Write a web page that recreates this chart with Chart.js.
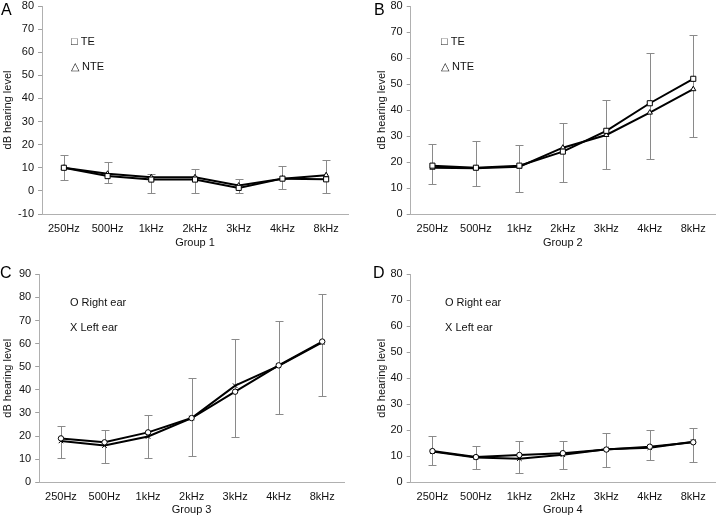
<!DOCTYPE html>
<html><head><meta charset="utf-8">
<script src="https://cdn.jsdelivr.net/npm/chart.js@4.4.1/dist/chart.umd.min.js"></script>
<style>
html,body{margin:0;padding:0;background:#fff;}
#wrap{position:relative;width:720px;height:518px;overflow:hidden;}
canvas{position:absolute;}
</style></head><body>
<div id="wrap">
<canvas id="cA" style="left:0;top:0;width:360px;height:260px" width="360" height="260"></canvas>
<canvas id="cB" style="left:360px;top:0;width:360px;height:260px" width="360" height="260"></canvas>
<canvas id="cC" style="left:0;top:260px;width:360px;height:258px" width="360" height="258"></canvas>
<canvas id="cD" style="left:360px;top:260px;width:360px;height:258px" width="360" height="258"></canvas>
</div>
<script>
// ---- data ----
const categories = ['250Hz','500Hz','1kHz','2kHz','3kHz','4kHz','8kHz'];

const group1_TE      = [10, 6.4, 4.9, 4.9, 1.3, 5.3, 5.0];
const group1_NTE     = [10, 7.4, 5.9, 5.9, 2.3, 5.3, 6.8];
const group1_errLow  = [4.5, 3.2, -0.9, -0.7, -0.8, 0.9, -0.7];
const group1_errHigh = [15.7, 12.5, 7.3, 9.6, 5.1, 10.9, 13.3];

const group2_TE      = [18.6, 17.8, 18.6, 24.0, 32.0, 42.6, 52.0];
const group2_NTE     = [17.8, 17.6, 18.2, 25.5, 30.4, 39.0, 48.0];
const group2_errLow  = [11.4, 10.7, 8.4, 12.5, 17.2, 21.2, 29.6];
const group2_errHigh = [26.8, 28.0, 26.4, 35.0, 43.8, 61.8, 69.0];

const group3_Right   = [19.0, 17.3, 21.6, 27.8, 39.2, 50.6, 60.9];
const group3_Left    = [17.9, 15.9, 19.8, 27.8, 41.8, 50.4, 60.5];
const group3_errLow  = [10.7, 8.4, 10.4, 11.4, 19.6, 29.6, 37.4];
const group3_errHigh = [24.5, 22.8, 29.3, 45.2, 62.2, 69.8, 81.5];

const group4_Right   = [12.0, 9.7, 10.5, 11.2, 12.6, 13.7, 15.4];
const group4_Left    = [11.8, 9.5, 9.1, 10.6, 12.7, 13.3, 15.6];
const group4_errLow  = [6.5, 5.1, 3.5, 5.0, 5.8, 8.5, 7.7];
const group4_errHigh = [17.7, 14.1, 15.9, 15.9, 18.8, 20.1, 20.8];

const yTicks1 = {min: -10, max: 80, step: 10};
const yTicks2 = {min: 0, max: 80, step: 10};
const yTicks3 = {min: 0, max: 90, step: 10};
const yTicks4 = {min: 0, max: 80, step: 10};

// ---- plugins ----
const FONT = 'Liberation Sans, Arial, Helvetica, sans-serif';

const errorBars = {
  id: 'errorBars',
  beforeDatasetsDraw(chart, args, opts) {
    const {ctx, scales: {x, y}} = chart;
    const lo = opts.low, hi = opts.high;
    if (!lo) return;
    ctx.save();
    ctx.strokeStyle = '#8a8a8a';
    ctx.lineWidth = 1;
    for (let i = 0; i < lo.length; i++) {
      const px = Math.round(x.getPixelForValue(i)) + 0.5;
      const y1 = Math.round(y.getPixelForValue(lo[i])) + 0.5;
      const y2 = Math.round(y.getPixelForValue(hi[i])) + 0.5;
      ctx.beginPath();
      ctx.moveTo(px, y1); ctx.lineTo(px, y2);
      ctx.moveTo(px - 4, y1); ctx.lineTo(px + 4, y1);
      ctx.moveTo(px - 4, y2); ctx.lineTo(px + 4, y2);
      ctx.stroke();
    }
    ctx.restore();
  }
};

const panelText = {
  id: 'panelText',
  afterDraw(chart, args, opts) {
    const ctx = chart.ctx;
    ctx.save();
    ctx.fillStyle = '#000';
    ctx.textAlign = 'left';
    ctx.textBaseline = 'alphabetic';
    ctx.font = '16px ' + FONT;
    ctx.fillText(opts.letter, opts.lx, opts.ly);
    ctx.font = '11px ' + FONT;
    ctx.fillStyle = '#111';
    ctx.textBaseline = 'middle';
    (opts.items || []).forEach(it => ctx.fillText(it.text, it.x, it.y));
    ctx.restore();
  }
};

function makeChart(id, cfg) {
  const ds = cfg.series.map(s => ({
    label: s.label,
    data: s.data,
    borderColor: '#000',
    borderWidth: 2,
    pointStyle: s.style,
    pointRadius: s.radius,
    pointBackgroundColor: '#fff',
    pointBorderColor: '#000',
    pointBorderWidth: 1,
    tension: 0,
    fill: false
  }));
  return new Chart(document.getElementById(id), {
    type: 'line',
    data: {labels: categories, datasets: ds},
    options: {
      responsive: false,
      animation: false,
      events: [],
      layout: {padding: cfg.pad},
      plugins: {
        legend: {display: false},
        tooltip: {enabled: false},
        errorBars: {low: cfg.low, high: cfg.high},
        panelText: {letter: cfg.letter, lx: cfg.lx, ly: cfg.ly, items: cfg.items}
      },
      scales: {
        x: {
          type: 'category',
          offset: true,
          grid: {display: false, drawTicks: false, tickLength: 0},
          border: {display: true, color: '#b0b0b0', width: 1},
          ticks: {color: '#111', font: {family: FONT, size: 11}, padding: 8, autoSkip: false, maxRotation: 0},
          title: {display: true, text: cfg.xTitle, color: '#111', font: {family: FONT, size: 11}, padding: {top: 0, bottom: 0}},
          afterFit(s) { s.height = cfg.xh; s.paddingLeft = 0; s.paddingRight = 0; }
        },
        y: {
          min: cfg.yt.min, max: cfg.yt.max,
          grid: {display: true, drawOnChartArea: false, drawTicks: true, tickLength: 4, color: '#a0a0a0'},
          border: {display: true, color: '#b0b0b0', width: 1},
          ticks: {stepSize: cfg.yt.step, color: '#111', font: {family: FONT, size: 11}, padding: 4},
          title: {display: true, text: 'dB hearing level', color: '#111', font: {family: FONT, size: 11}, padding: {top: 0, bottom: 0}},
          afterFit(s) { s.width = cfg.yw; s.paddingTop = 0; s.paddingBottom = 0; }
        }
      }
    },
    plugins: [errorBars, panelText]
  });
}

makeChart('cA', {
  series: [
    {label: 'TE', data: group1_TE, style: 'rect', radius: 3.6},
    {label: 'NTE', data: group1_NTE, style: 'triangle', radius: 3}
  ],
  low: group1_errLow, high: group1_errHigh, yt: yTicks1, xTitle: 'Group 1',
  pad: {left: 1.4, right: 12, top: 6, bottom: 10.4}, yw: 40.6, xh: 35.6,
  letter: 'A', lx: 1, ly: 15,
  items: [{text: '\u25A1 TE', x: 71, y: 42}, {text: '\u25B3 NTE', x: 71, y: 67}]
});

makeChart('cB', {
  series: [
    {label: 'TE', data: group2_TE, style: 'rect', radius: 3.6},
    {label: 'NTE', data: group2_NTE, style: 'triangle', radius: 3}
  ],
  low: group2_errLow, high: group2_errHigh, yt: yTicks2, xTitle: 'Group 2',
  pad: {left: 15, right: 1.3, top: 6, bottom: 10.4}, yw: 35.7, xh: 35.6,
  letter: 'B', lx: 14, ly: 15,
  items: [{text: '\u25A1 TE', x: 81, y: 42}, {text: '\u25B3 NTE', x: 81, y: 67}]
});

makeChart('cC', {
  series: [
    {label: 'Right ear', data: group3_Right, style: 'circle', radius: 2.7},
    {label: 'Left ear', data: group3_Left, style: 'crossRot', radius: 3.2}
  ],
  low: group3_errLow, high: group3_errHigh, yt: yTicks3, xTitle: 'Group 3',
  pad: {left: 1.7, right: 16, top: 14.3, bottom: 1.4}, yw: 37.5, xh: 34.3,
  letter: 'C', lx: 0, ly: 17.5,
  items: [{text: 'O Right ear', x: 70, y: 43.3}, {text: 'X Left ear', x: 70, y: 67.7}]
});

makeChart('cD', {
  series: [
    {label: 'Right ear', data: group4_Right, style: 'circle', radius: 2.7},
    {label: 'Left ear', data: group4_Left, style: 'crossRot', radius: 3.2}
  ],
  low: group4_errLow, high: group4_errHigh, yt: yTicks4, xTitle: 'Group 4',
  pad: {left: 15, right: 1.3, top: 14.3, bottom: 1.4}, yw: 35.7, xh: 34.3,
  letter: 'D', lx: 13, ly: 17.5,
  items: [{text: 'O Right ear', x: 85, y: 43.3}, {text: 'X Left ear', x: 85, y: 68}]
});
</script>
</body></html>
